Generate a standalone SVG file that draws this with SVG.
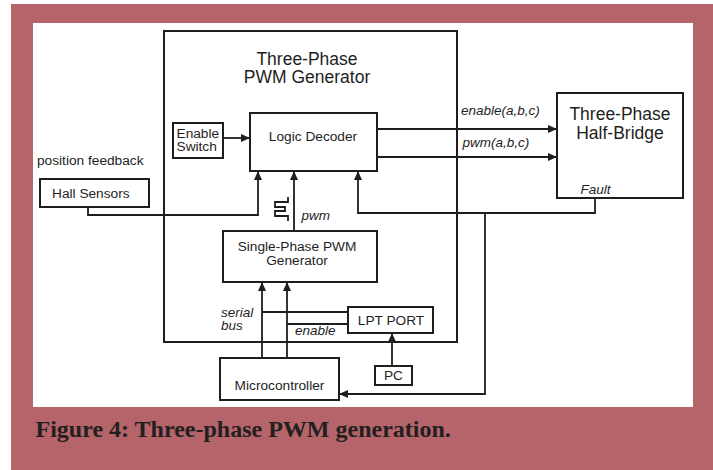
<svg xmlns="http://www.w3.org/2000/svg" width="713" height="470" viewBox="0 0 713 470">
  <style>
    .box { fill: #ffffff; stroke: #1e1e1e; stroke-width: 2; }
    .wire { fill: none; stroke: #1e1e1e; stroke-width: 1.8; }
    .lbl { font-family: "Liberation Sans", Arial, sans-serif; font-size: 13.7px; fill: #1e1e1e; }
    .it { font-style: italic; font-size: 13.5px; }
    .title { font-family: "Liberation Sans", Arial, sans-serif; font-size: 17.5px; fill: #1e1e1e; text-anchor: middle; }
    .mid { text-anchor: middle; }
  </style>
  <defs>
    <marker id="arrow" markerUnits="userSpaceOnUse" markerWidth="10" markerHeight="8" refX="9" refY="4" orient="auto">
      <path d="M0,0 L9,4 L0,8 Z" fill="#1e1e1e"/>
    </marker>
  </defs>

  <!-- page frame -->
  <rect x="11" y="4" width="702" height="466" fill="#b5646a"/>
  <rect x="33" y="23" width="660" height="384" fill="#ffffff"/>

  <!-- outer generator block -->
  <g id="three-phase-pwm-generator">
    <rect class="box" x="164" y="31" width="293" height="311" fill="none"/>
    <text class="title" x="307" y="65">Three-Phase</text>
    <text class="title" x="307" y="83">PWM Generator</text>
  </g>

  <g id="logic-decoder">
    <rect class="box" x="250" y="113" width="127" height="58"/>
    <text class="lbl mid" x="313" y="141">Logic Decoder</text>
  </g>

  <g id="enable-switch">
    <rect class="box" x="173" y="123" width="50" height="35"/>
    <text class="lbl" x="176.5" y="137.5">Enable</text>
    <text class="lbl" x="176.5" y="150.5">Switch</text>
  </g>

  <g id="hall-sensors">
    <text class="lbl" x="37" y="165">position feedback</text>
    <rect class="box" x="40" y="179" width="109" height="28"/>
    <text class="lbl" x="52" y="197.5">Hall Sensors</text>
  </g>

  <g id="single-phase-pwm">
    <rect class="box" x="223" y="231" width="154" height="51"/>
    <text class="lbl mid" x="297" y="251">Single-Phase PWM</text>
    <text class="lbl mid" x="297" y="265">Generator</text>
  </g>

  <g id="lpt-port">
    <rect class="box" x="348" y="307" width="85" height="26"/>
    <text class="lbl mid" x="391" y="325">LPT PORT</text>
  </g>

  <g id="pc">
    <rect class="box" x="375" y="366" width="37" height="19"/>
    <text class="lbl mid" x="393.5" y="380">PC</text>
  </g>

  <g id="microcontroller">
    <rect class="box" x="220" y="358" width="119" height="42"/>
    <text class="lbl mid" x="279.5" y="390">Microcontroller</text>
  </g>

  <g id="half-bridge">
    <rect class="box" x="557" y="93" width="126" height="105"/>
    <text class="title" x="620" y="120">Three-Phase</text>
    <text class="title" x="620" y="138.5">Half-Bridge</text>
    <text class="lbl it" x="580.5" y="193.5">Fault</text>
  </g>

  <g id="connectors">
    <path class="wire" d="M223,138 H250" marker-end="url(#arrow)"/>
    <path class="wire" d="M88,207 V215 H258 V171" marker-end="url(#arrow)"/>
    <path class="wire" d="M294,231 V171" marker-end="url(#arrow)"/>
    <path class="wire" d="M595,198 V213 H358 V171" marker-end="url(#arrow)"/>
    <path class="wire" d="M485,213 V394 H339" marker-end="url(#arrow)"/>
    <path class="wire" d="M377,129 H557" marker-end="url(#arrow)"/>
    <path class="wire" d="M377,157 H557" marker-end="url(#arrow)"/>
    <path class="wire" d="M262,358 V282" marker-end="url(#arrow)"/>
    <path class="wire" d="M287,358 V282" marker-end="url(#arrow)"/>
    <path class="wire" d="M262,312 H348"/>
    <path class="wire" d="M287,324 H348"/>
    <path class="wire" d="M392,366 V333" marker-end="url(#arrow)"/>
    <!-- pulse train symbol beside the pwm line -->
    <path class="wire" stroke-width="1.6" d="M288,197 V202 H275 V207 H285 V211 H275 V216 H288 V221"/>
    <text class="lbl it" x="301.5" y="220">pwm</text>
    <text class="lbl it" x="461" y="115">enable(a,b,c)</text>
    <text class="lbl it" x="462.5" y="147">pwm(a,b,c)</text>
    <text class="lbl it" x="221" y="317">serial</text>
    <text class="lbl it" x="221" y="330">bus</text>
    <text class="lbl it" x="295" y="335">enable</text>
  </g>

  <text x="35.5" y="437" font-family="'Liberation Serif', 'Times New Roman', serif" font-weight="bold" font-size="24" fill="#231f20">Figure 4: Three-phase PWM generation.</text>
</svg>
